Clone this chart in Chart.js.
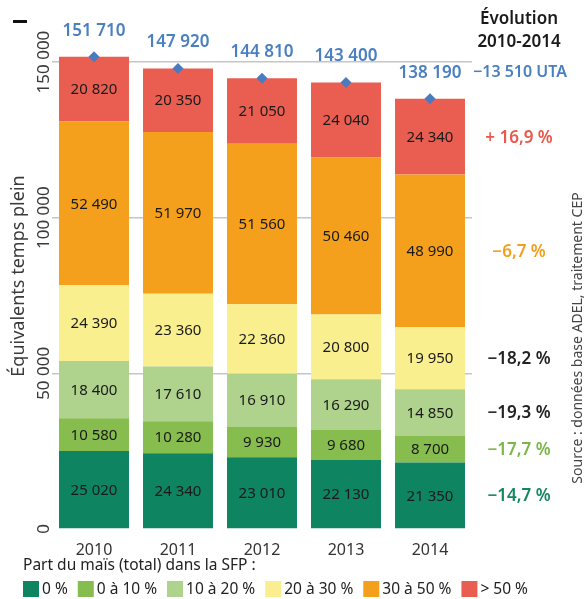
<!DOCTYPE html>
<html>
<head>
<meta charset="utf-8">
<script src="https://cdn.jsdelivr.net/npm/chart.js@4/dist/chart.umd.min.js"></script>
<style>
  html, body { margin: 0; padding: 0; background: #fff; }
  #wrap { width: 584px; height: 599px; position: relative; }
</style>
</head>
<body>
<div id="wrap"><canvas id="chart"></canvas></div>
<script>
const years = ["2010", "2011", "2012", "2013", "2014"];
const classes = ["0 %", "0 à 10 %", "10 à 20 %", "20 à 30 %", "30 à 50 %", "> 50 %"];
const colors = ["#0e8461", "#86bd4e", "#afd28c", "#f9ef8f", "#f4a01d", "#ea5e51"];

const maize0 = [25020, 24340, 23010, 22130, 21350];
const maize0to10 = [10580, 10280, 9930, 9680, 8700];
const maize10to20 = [18400, 17610, 16910, 16290, 14850];
const maize20to30 = [24390, 23360, 22360, 20800, 19950];
const maize30to50 = [52490, 51970, 51560, 50460, 48990];
const maizeOver50 = [20820, 20350, 21050, 24040, 24340];
const totals = [151710, 147920, 144810, 143400, 138190];

const yTicks = [0, 50000, 100000, 150000];
const evolution = ["−14,7 %", "−17,7 %", "−19,3 %", "−18,2 %", "−6,7 %", "+ 16,9 %"];
const evolutionColors = ["#16875e", "#7ab648", "#222222", "#222222", "#f29f1c", "#e9584b"];
const evolutionTotal = "−13 510 UTA";

const series = [maize0, maize0to10, maize10to20, maize20to30, maize30to50, maizeOver50];
const BLUE = "#4a7fc1";
const FONT = "'Noto Sans', sans-serif";

Chart.defaults.font.family = FONT;

function fmt(n) {
  return String(n).replace(/\B(?=(\d{3})+(?!\d))/g, " ");
}

const labelsPlugin = {
  id: "labels",
  afterDatasetsDraw(chart) {
    const ctx = chart.ctx;
    ctx.save();
    ctx.textAlign = "center";
    ctx.textBaseline = "middle";

    // valeurs dans les segments
    ctx.font = "15px " + FONT;
    ctx.fillStyle = "#1a1a1a";
    series.forEach((data, i) => {
      const meta = chart.getDatasetMeta(i + 1);
      meta.data.forEach((el, j) => {
        ctx.fillText(fmt(data[j]), el.x, (el.y + el.base) / 2 + 1);
      });
    });

    // totaux
    ctx.font = "600 17px " + FONT;
    ctx.fillStyle = BLUE;
    const tMeta = chart.getDatasetMeta(0);
    tMeta.data.forEach((el, j) => {
      ctx.fillText(fmt(totals[j]), el.x, el.y - 26);
    });

    // évolution 2010-2014
    const ax = 519;
    ctx.fillStyle = "#1a1a1a";
    ctx.font = "600 17px " + FONT;
    ctx.fillText("Évolution", ax, 19);
    ctx.fillText("2010-2014", ax, 42);
    ctx.fillStyle = BLUE;
    ctx.font = "600 16px " + FONT;
    const last = tMeta.data[tMeta.data.length - 1];
    ctx.fillText(evolutionTotal, ax + 1, last.y - 26);

    ctx.font = "600 17px " + FONT;
    series.forEach((data, i) => {
      const meta = chart.getDatasetMeta(i + 1);
      const el = meta.data[meta.data.length - 1];
      ctx.fillStyle = evolutionColors[i];
      ctx.fillText(evolution[i], ax, (el.y + el.base) / 2 + 1);
    });
    ctx.restore();
  },
  afterDraw(chart) {
    const ctx = chart.ctx;
    const y = chart.scales.y;
    ctx.save();

    // graduations verticales
    ctx.fillStyle = "#3a3a3a";
    ctx.textAlign = "center";
    ctx.textBaseline = "middle";
    ctx.font = "17px " + FONT;
    y.ticks.forEach(t => {
      ctx.save();
      ctx.translate(44, y.getPixelForValue(t.value));
      ctx.rotate(-Math.PI / 2);
      ctx.fillText(fmt(t.value), 0, 0);
      ctx.restore();
    });

    ctx.save();
    ctx.translate(19, 276);
    ctx.rotate(-Math.PI / 2);
    ctx.font = "18px " + FONT;
    ctx.fillText("Équivalents temps plein", 0, 0);
    ctx.restore();

    ctx.save();
    ctx.translate(578, 338);
    ctx.rotate(-Math.PI / 2);
    ctx.font = "14px " + FONT;
    ctx.fillStyle = "#444";
    ctx.fillText("Source : données base ADEL, traitement CEP", 0, 0);
    ctx.restore();

    ctx.fillStyle = "#111";
    ctx.fillRect(13, 20, 14, 3);

    // légende
    ctx.textAlign = "left";
    ctx.fillStyle = "#222";
    ctx.font = "15.5px " + FONT;
    ctx.fillText("Part du maïs (total) dans la SFP :", 23, 566);
    let x = 23;
    classes.forEach((c, i) => {
      ctx.fillStyle = colors[i];
      ctx.fillRect(x, 581, 16, 16);
      ctx.fillStyle = "#222";
      ctx.fillText(c, x + 19, 590);
      x += 19 + ctx.measureText(c).width + 10;
    });
    ctx.restore();
  }
};

const datasets = [{
  type: "line",
  label: "Total",
  data: totals,
  showLine: false,
  stack: "total",
  pointStyle: "rectRot",
  pointRadius: 5.5,
  pointHoverRadius: 5.5,
  pointBackgroundColor: "#4a7bbf",
  pointBorderWidth: 0,
  borderColor: "#4a7bbf"
}];
series.forEach((data, i) => {
  datasets.push({
    label: classes[i],
    data: data,
    backgroundColor: colors[i],
    borderWidth: 0,
    barPercentage: 0.833,
    categoryPercentage: 1
  });
});

new Chart(document.getElementById("chart"), {
  type: "bar",
  data: { labels: years, datasets },
  options: {
    responsive: true,
    maintainAspectRatio: false,
    animation: false,
    layout: { padding: { top: 6, right: 112, bottom: 40, left: 0 } },
    plugins: { legend: { display: false }, tooltip: { enabled: false } },
    scales: {
      x: {
        stacked: true,
        grid: { display: false },
        border: { display: false },
        ticks: { color: "#333", font: { size: 16 }, padding: 4 },
        afterFit(scale) { scale.height = 30; }
      },
      y: {
        stacked: true,
        min: 0,
        max: 168000,
        afterBuildTicks(scale) { scale.ticks = yTicks.map(v => ({ value: v })); },
        afterFit(scale) { scale.width = 52; },
        ticks: { display: false },
        border: { display: false },
        grid: {
          drawTicks: false,
          lineWidth: 1.5,
          color: c => (c.tick && c.tick.value === 0 ? "rgba(0,0,0,0)" : "#c6c6c6")
        }
      }
    }
  },
  plugins: [labelsPlugin]
});
</script>
</body>
</html>
